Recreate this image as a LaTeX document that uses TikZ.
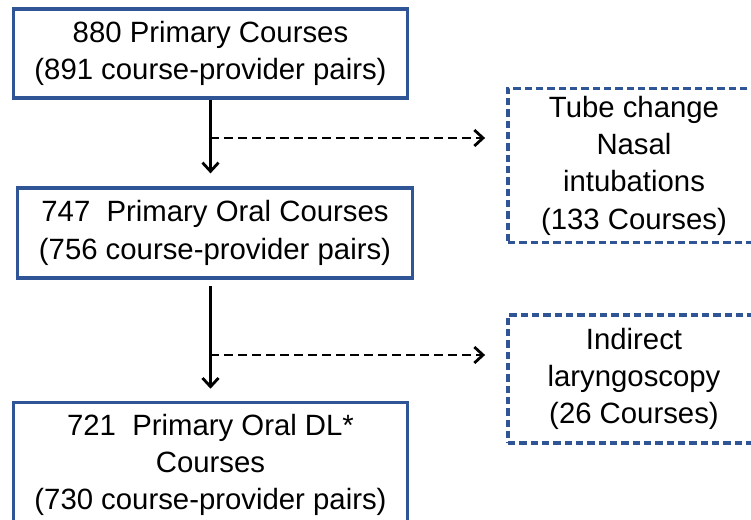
\documentclass[tikz,border=0pt]{standalone}
\usepackage{fontspec}
\setmainfont{Liberation Sans}
\usetikzlibrary{arrows.meta,positioning}
\definecolor{boxblue}{RGB}{47,85,151}
\tikzset{basic/.style={draw=boxblue,line width=2.4pt,fill=white,align=center,inner sep=0pt,font=\fontsize{22}{28}\selectfont}}
\tikzset{stage/.style={basic,minimum width=296pt}}
\tikzset{excl/.style={basic,dash pattern=on 5.5pt off 3pt,minimum width=189pt}}
\tikzset{arrow/.style={draw,line width=2.1pt,>={Straight Barb[length=6.5pt,width=12pt]}}}
\tikzset{split/.style={arrow,dash pattern=on 7pt off 3.5pt}}

\begin{document}
\begin{tikzpicture}[x=0.75pt,y=-0.75pt]
    \useasboundingbox (0,0) rectangle (751,520);
    \clip (0,0) rectangle (751,520);

    \node[stage,minimum height=66.75pt] (b1) at (210.5,53.5) {880 Primary Courses\\(891 course-provider pairs)};
    \node[stage,minimum height=67.5pt] (b2) at (215,233) {747\ \ Primary Oral Courses\\(756 course-provider pairs)};
    \node[stage,minimum height=94pt] (b3) at (210.5,465) {721\ \ Primary Oral DL*\\Courses\\(730 course-provider pairs)};

    \node[excl,minimum height=116pt] (r1) at (634,165.5) {Tube change\\Nasal\\intubations\\(133 Courses)};
    \node[excl,minimum height=96pt] (r2) at (634,379) {Indirect\\laryngoscopy\\(26 Courses)};

    \coordinate (s1) at (210,138);
    \coordinate (s2) at (210,355);

        \path[arrow,->,shorten >=9.75pt] (b1.south) -- (b1.south |- b2.north);
        \path[arrow,->,shorten <=5pt,shorten >=9pt] (b3.north |- b2.south) -- (b3.north);
        \path[split,->,shorten >=16pt] (s1) -- (s1 -| r1.west);
        \path[split,->,shorten >=16pt] (s2) -- (s2 -| r2.west);
  \end{tikzpicture}
\end{document}
